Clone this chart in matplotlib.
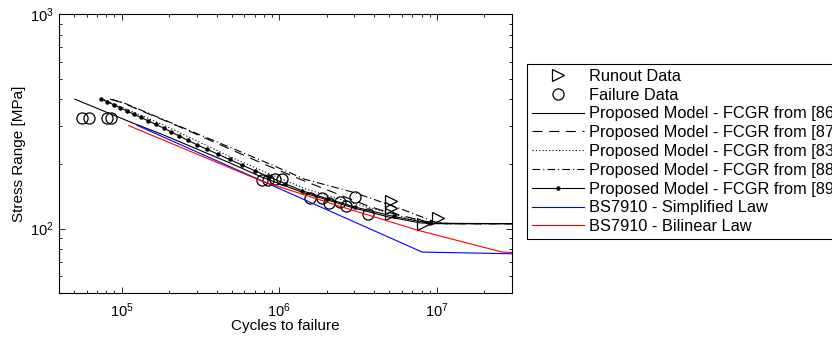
import matplotlib
matplotlib.use('Agg')
import matplotlib.pyplot as plt

plt.rcParams['font.family'] = ['Liberation Sans', 'DejaVu Sans']

# Runout / failure test data
N_runout = [5.1e6, 5.1e6, 5.1e6, 8.2e6, 1.02e7]
S_runout = [134, 125, 117.5, 105, 112]

N_fail = [5.57e4, 6.23e4, 8.03e4, 8.51e4, 7.78e5, 8.49e5, 9.4e5, 1.04e6,
          1.57e6, 1.86e6, 2.08e6, 2.43e6, 2.66e6, 3.03e6, 3.65e6]
S_fail = [326, 326, 326, 326, 169, 169, 170, 170,
          139, 139, 131, 133, 127, 140, 117]

# Proposed model curves (FCGR from different refs)
N86 = [5.05e4, 1.157e5, 1.795e5, 4.75e5, 7.78e5, 1.458e6, 3.03e6, 4.91e6, 7.83e6, 9.75e6, 3.0e7]
S86 = [401, 312, 275.4, 203.9, 173.6, 146.2, 124.4, 113.5, 106.4, 105.5, 105.5]

N87 = [8.68e4, 1.004e5, 2.278e5, 7.78e5, 1.458e6, 3.506e6, 4.77e6, 8.43e6, 1.13e7, 3.0e7]
S87 = [399, 386.4, 300.2, 201.7, 166.3, 129.1, 119.8, 108.2, 105.5, 105.5]

N83 = [7.72e4, 1.795e5, 4.75e5, 7.78e5, 1.458e6, 3.03e6, 4.91e6, 8.43e6, 1.13e7, 3.0e7]
S83 = [399, 306.7, 218.3, 186.1, 153.4, 130.5, 118.5, 107.0, 105.5, 105.5]

N88 = [8.43e4, 1.004e5, 2.278e5, 7.78e5, 1.458e6, 3.03e6, 5.85e6, 9.75e6, 1.215e7, 3.0e7]
S88 = [401, 388.6, 301.8, 207.2, 169.8, 146.9, 124.0, 107.4, 105.5, 105.5]

N89 = [7.39e4, 8.1e4, 8.88e4, 9.75e4, 1.076e5, 1.19e5, 1.32e5, 1.471e5, 1.646e5,
       1.846e5, 2.067e5, 2.324e5, 2.63e5, 3.0e5, 3.49e5, 4.09e5, 4.84e5, 5.79e5,
       7.01e5, 8.66e5, 1.091e6, 1.401e6, 2.013e6, 3.04e6, 5.32e6, 9.0e6, 3.0e7]
S89 = [402, 390, 378, 366, 354, 342, 330, 318, 306,
       294, 282, 270, 258, 246, 234, 222, 210, 198,
       186, 174, 162, 150, 138, 126, 114, 106, 105.5]

# BS7910 curves
N_simp = [1.25e5, 8.07e6, 3.0e7]
S_simp = [303, 77.8, 76.4]

N_bil = [1.11e5, 7.78e5, 2.43e6, 7.61e6, 2.6e7, 3.0e7]
S_bil = [301.8, 166.3, 127.1, 98.2, 77.8, 77.5]

fig = plt.figure(figsize=(8.32, 3.48), dpi=100)
ax = fig.add_axes([0.0709, 0.1572, 0.5445, 0.8026])

lw = 0.8
ax.plot(N_runout, S_runout, linestyle='none', marker='>', ms=9, mfc='none',
        mec='k', mew=0.9, label='Runout Data')
ax.plot(N_fail, S_fail, linestyle='none', marker='o', ms=8, mfc='none',
        mec='k', mew=0.9, label='Failure Data')
ax.plot(N86, S86, color='k', lw=lw, linestyle='-', label='Proposed Model - FCGR from [86]')
ax.plot(N87, S87, color='k', lw=lw, linestyle=(0, (9, 6)), label='Proposed Model - FCGR from [87]')
ax.plot(N83, S83, color='k', lw=lw, linestyle=(0, (1, 2)), label='Proposed Model - FCGR from [83]')
ax.plot(N88, S88, color='k', lw=lw, linestyle=(0, (7, 2.7, 1, 2.7)), label='Proposed Model - FCGR from [88]')
ax.plot(N89, S89, color='k', lw=lw, linestyle='-', marker='o', ms=2.2,
        markevery=slice(0, len(N89) - 1), label='Proposed Model - FCGR from [89]')
ax.plot(N_simp, S_simp, color=(0, 0, 1), lw=lw, label='BS7910 - Simplified Law')
ax.plot(N_bil, S_bil, color=(1, 0, 0), lw=lw, label='BS7910 - Bilinear Law')

ax.set_xscale('log')
ax.set_yscale('log')
ax.set_xlim(4e4, 3e7)
ax.set_ylim(50, 1000)

ax.set_xlabel('Cycles to failure', fontsize=11, labelpad=-1)
ax.set_ylabel('Stress Range [MPa]', fontsize=11, labelpad=3)
ax.tick_params(which='both', direction='in', top=True, right=True, labelsize=10.5)
ax.tick_params(axis='x', which='both', pad=6)
ax.tick_params(axis='y', which='both', pad=4)
ax.tick_params(which='major', length=4, width=0.6)
ax.tick_params(which='minor', length=2.5, width=0.6)
for sp in ax.spines.values():
    sp.set_linewidth(0.8)

leg = ax.legend(loc='upper left', bbox_to_anchor=(527 / 832, 1 - 64 / 348),
                bbox_transform=fig.transFigure, fontsize=11.8, numpoints=1,
                frameon=True, fancybox=False, framealpha=1, edgecolor='k',
                borderaxespad=0, borderpad=0.3, labelspacing=0.23,
                handlelength=3.2, handletextpad=0.3)
leg.get_frame().set_linewidth(0.8)

fig.savefig('out.png', dpi=100)
